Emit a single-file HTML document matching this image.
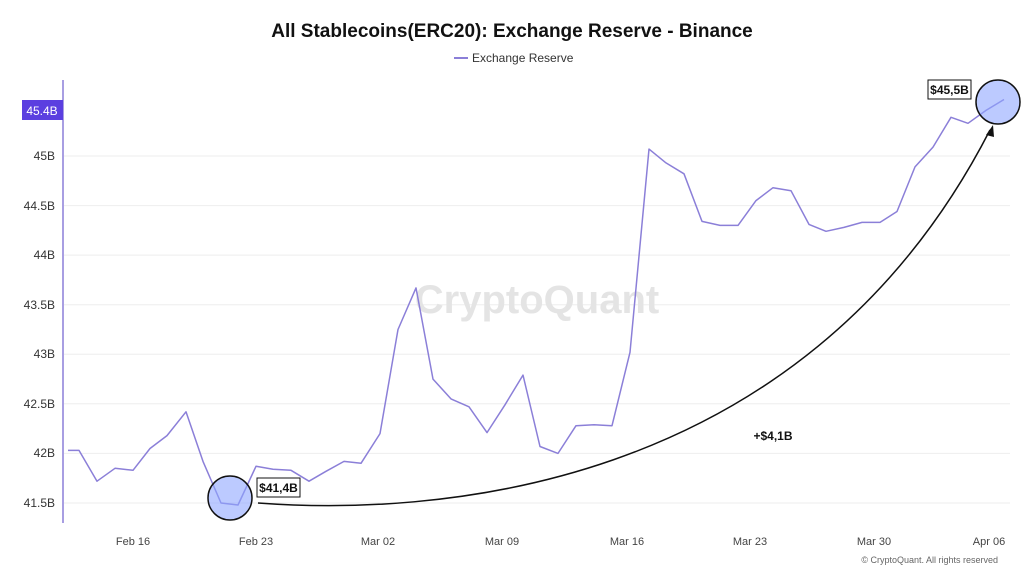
<!DOCTYPE html>
<html><head><meta charset="utf-8"><style>
body{margin:0;background:#fff;width:1024px;height:576px;overflow:hidden;font-family:"Liberation Sans",sans-serif}
</style></head><body>
<svg width="1024" height="576" xmlns="http://www.w3.org/2000/svg" font-family="Liberation Sans, sans-serif">
<text x="512" y="37" text-anchor="middle" font-size="19" font-weight="bold" fill="#111">All Stablecoins(ERC20): Exchange Reserve - Binance</text>
<line x1="454" y1="58" x2="468" y2="58" stroke="#8b7fd8" stroke-width="2"/>
<text x="472" y="62" font-size="12" fill="#333">Exchange Reserve</text>
<g stroke="#eeeeee" stroke-width="1">
<line x1="64" y1="503" x2="1010" y2="503"/><line x1="64" y1="453.4" x2="1010" y2="453.4"/>
<line x1="64" y1="403.8" x2="1010" y2="403.8"/><line x1="64" y1="354.3" x2="1010" y2="354.3"/>
<line x1="64" y1="304.7" x2="1010" y2="304.7"/><line x1="64" y1="255.1" x2="1010" y2="255.1"/>
<line x1="64" y1="205.6" x2="1010" y2="205.6"/><line x1="64" y1="156" x2="1010" y2="156"/>
</g>
<line x1="63" y1="80" x2="63" y2="523" stroke="#8b7fd8" stroke-width="1.5"/>
<g font-size="12" fill="#333" text-anchor="end">
<text x="55" y="507">41.5B</text><text x="55" y="457">42B</text><text x="55" y="408">42.5B</text>
<text x="55" y="358">43B</text><text x="55" y="309">43.5B</text><text x="55" y="259">44B</text>
<text x="55" y="210">44.5B</text><text x="55" y="160">45B</text>
</g>
<rect x="22" y="100" width="41" height="20" fill="#5b3fe0"/>
<text x="42" y="115" font-size="12" fill="#fff" text-anchor="middle">45.4B</text>
<g font-size="11" fill="#444" text-anchor="middle">
<text x="133" y="545">Feb 16</text><text x="256" y="545">Feb 23</text><text x="378" y="545">Mar 02</text>
<text x="502" y="545">Mar 09</text><text x="627" y="545">Mar 16</text><text x="750" y="545">Mar 23</text>
<text x="874" y="545">Mar 30</text><text x="989" y="545">Apr 06</text>
</g>
<text x="998" y="563" font-size="9" fill="#666" text-anchor="end">© CryptoQuant. All rights reserved</text>
<text x="537" y="313" font-size="40" fill="#e4e4e4" text-anchor="middle" font-weight="bold">CryptoQuant</text>
<polyline fill="none" stroke="#8b7fd8" stroke-width="1.5" stroke-linejoin="round" points="68,450.4 79,450.4 97,481.2 115,468.3 133,470.3 150,448.5 167,435.6 186,411.8 203,461.4 221,503 238,505 256,466.3 273,469.3 291,470.3 309,481.2 326,471.3 344,461.4 361,463.3 380,433.6 398,329.5 416,287.9 433,379.1 451,398.9 469,406.8 487,432.6 505,404.8 523,375.1 540,446.5 558,453.4 576,425.7 594,424.7 612,425.7 630,352.3 649,149.1 666,162.9 684,173.8 702,221.4 720,225.4 738,225.4 756,200.6 773,187.7 791,190.7 809,224.4 826,231.3 844,227.4 862,222.4 880,222.4 897,211.5 915,166.9 933,147.1 951,117.3 968,123.3 986,110.4 1004,99.5"/>
<circle cx="230" cy="498" r="22" fill="#8fa6ff" fill-opacity="0.6" stroke="#111" stroke-width="1.5"/>
<circle cx="998" cy="102" r="22" fill="#8fa6ff" fill-opacity="0.6" stroke="#111" stroke-width="1.5"/>
<path d="M258,503 C420,515 800,500 990,130" fill="none" stroke="#111" stroke-width="1.5"/>
<polygon points="993,125 986,135 994,137" fill="#111"/>
<rect x="257" y="478" width="43" height="19" fill="#fff" stroke="#111" stroke-width="1"/>
<text x="278.5" y="492" font-size="12" font-weight="bold" fill="#111" text-anchor="middle">$41,4B</text>
<rect x="928" y="80" width="43" height="19" fill="#fff" stroke="#111" stroke-width="1"/>
<text x="949.5" y="94" font-size="12" font-weight="bold" fill="#111" text-anchor="middle">$45,5B</text>
<text x="773" y="440" font-size="12" font-weight="bold" fill="#111" text-anchor="middle">+$4,1B</text>
</svg>
</body></html>
